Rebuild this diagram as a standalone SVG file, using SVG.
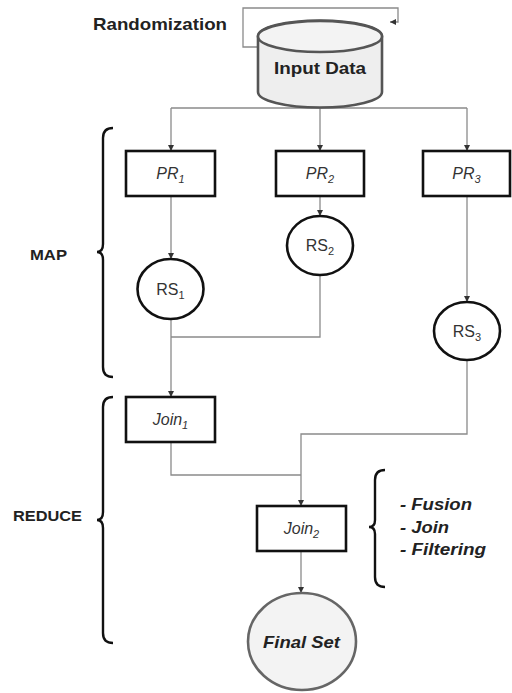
<svg xmlns="http://www.w3.org/2000/svg" width="512" height="693" viewBox="0 0 512 693">
  <defs>
    <marker id="arrow" markerWidth="7" markerHeight="7" refX="6" refY="3" orient="auto" markerUnits="userSpaceOnUse">
      <path d="M0,0 L6,3 L0,6 z" fill="#333"/>
    </marker>
    <style>
      text { font-family: "Liberation Sans", Arial, sans-serif; fill: #222; }
      .conn { fill: none; stroke: #8a8a8a; stroke-width: 1.3; }
      .box { fill: #fff; stroke: #111; stroke-width: 2.6; }
      .circ { fill: #fff; stroke: #111; stroke-width: 2.6; }
      .brace { fill: none; stroke: #111; stroke-width: 2.4; }
      .lbl { font-size: 16px; font-style: italic; text-anchor: middle; fill: #333; }
      .rs { font-size: 16px; text-anchor: middle; fill: #333; }
      .sub { font-size: 11px; }
      .bold { font-weight: bold; font-size: 14px; }
      .bi { font-weight: bold; font-style: italic; font-size: 16px; }
    </style>
  </defs>

  <rect width="512" height="693" fill="#fff"/>

  <!-- connectors -->
  <g id="connectors">
    <path class="conn" d="M258,47 H243 V8 H398 V22 H390" marker-end="url(#arrow)"/>
    <path class="conn" d="M320,106 V108"/>
    <path class="conn" d="M171,108 H467"/>
    <path class="conn" d="M171,108 V151" marker-end="url(#arrow)"/>
    <path class="conn" d="M320,108 V151" marker-end="url(#arrow)"/>
    <path class="conn" d="M467,108 V151" marker-end="url(#arrow)"/>
    <path class="conn" d="M171,196 V259" marker-end="url(#arrow)"/>
    <path class="conn" d="M320,196 V216" marker-end="url(#arrow)"/>
    <path class="conn" d="M467,196 V302" marker-end="url(#arrow)"/>
    <path class="conn" d="M320,275 V337 H171"/>
    <path class="conn" d="M171,319 V397" marker-end="url(#arrow)"/>
    <path class="conn" d="M171,442 V475 H301"/>
    <path class="conn" d="M467,360 V434 H301 V506" marker-end="url(#arrow)"/>
    <path class="conn" d="M301,551 V593" marker-end="url(#arrow)"/>
  </g>

  <!-- input data store -->
  <g id="input-data">
    <path d="M258,36 A62,15.5 0 0 1 382,36 V92 A62,15.5 0 0 1 258,92 Z" fill="#eeeeee" stroke="#555" stroke-width="2.6"/>
    <ellipse cx="320" cy="36.5" rx="62" ry="15.5" fill="#f3f3f3" stroke="#555" stroke-width="2.6"/>
    <text x="320" y="74" class="bold" text-anchor="middle" textLength="92" lengthAdjust="spacingAndGlyphs" style="font-size:17px">Input Data</text>
  </g>

  <g id="randomization-label">
    <text x="93" y="30" class="bold" textLength="134" lengthAdjust="spacingAndGlyphs" style="font-size:17px">Randomization</text>
  </g>

  <!-- processing nodes -->
  <g id="pr1">
    <rect class="box" x="126" y="151" width="89" height="45"/>
    <text x="170.5" y="179" class="lbl">PR<tspan class="sub" dy="4">1</tspan></text>
  </g>
  <g id="pr2">
    <rect class="box" x="276" y="151" width="88" height="45"/>
    <text x="320" y="179" class="lbl">PR<tspan class="sub" dy="4">2</tspan></text>
  </g>
  <g id="pr3">
    <rect class="box" x="423" y="151" width="87" height="45"/>
    <text x="466.5" y="179" class="lbl">PR<tspan class="sub" dy="4">3</tspan></text>
  </g>

  <!-- result sets -->
  <g id="rs1">
    <ellipse class="circ" cx="170.5" cy="289" rx="33" ry="30"/>
    <text x="170.5" y="295" class="rs">RS<tspan class="sub" dy="4">1</tspan></text>
  </g>
  <g id="rs2">
    <ellipse class="circ" cx="320" cy="245.5" rx="33" ry="29.5"/>
    <text x="320" y="251" class="rs">RS<tspan class="sub" dy="4">2</tspan></text>
  </g>
  <g id="rs3">
    <ellipse class="circ" cx="467" cy="331" rx="33" ry="29"/>
    <text x="467" y="337" class="rs">RS<tspan class="sub" dy="4">3</tspan></text>
  </g>

  <!-- joins -->
  <g id="join1">
    <rect class="box" x="126" y="397" width="89" height="45"/>
    <text x="170.5" y="425" class="lbl">Join<tspan class="sub" dy="4">1</tspan></text>
  </g>
  <g id="join2">
    <rect class="box" x="257" y="506" width="89" height="45"/>
    <text x="301.5" y="534" class="lbl">Join<tspan class="sub" dy="4">2</tspan></text>
  </g>

  <g id="final-set">
    <ellipse cx="302" cy="641.5" rx="54" ry="48.5" fill="#f3f3f3" stroke="#666" stroke-width="2.6"/>
    <text x="263" y="648" class="bi" textLength="77" lengthAdjust="spacingAndGlyphs" style="font-size:17px">Final Set</text>
  </g>

  <!-- phase braces -->
  <g id="map-phase">
    <path class="brace" d="M113,128 Q103,128 103,138 V244 Q103,252 97,252 Q103,252 103,260 V367 Q103,377 113,377"/>
    <text x="30" y="260" class="bold" textLength="37" lengthAdjust="spacingAndGlyphs" style="font-size:15px">MAP</text>
  </g>
  <g id="reduce-phase">
    <path class="brace" d="M113,397 Q103,397 103,407 V512 Q103,520 97,520 Q103,520 103,528 V633 Q103,643 113,643"/>
    <text x="13" y="521" class="bold" textLength="69" lengthAdjust="spacingAndGlyphs" style="font-size:15px">REDUCE</text>
  </g>
  <g id="join2-operations">
    <path class="brace" d="M385,470 Q375,470 375,480 V520 Q375,527 369,527 Q375,527 375,534 V577 Q375,587 385,587"/>
    <text x="400" y="510" class="bi" textLength="72" lengthAdjust="spacingAndGlyphs">- Fusion</text>
    <text x="400" y="533" class="bi" textLength="49" lengthAdjust="spacingAndGlyphs">- Join</text>
    <text x="400" y="555" class="bi" textLength="86" lengthAdjust="spacingAndGlyphs">- Filtering</text>
  </g>
</svg>
